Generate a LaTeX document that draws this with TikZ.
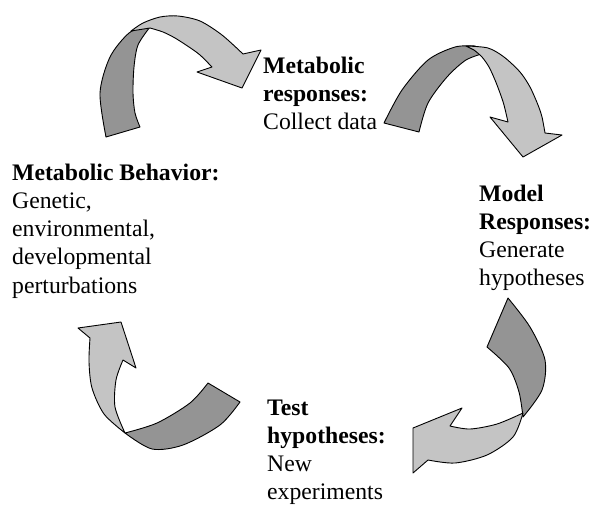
\documentclass[tikz,border=0pt]{standalone}
\usepackage{fontspec}
\setmainfont{Liberation Serif}
\definecolor{ribdark}{RGB}{148,148,148}
\definecolor{riblight}{RGB}{196,196,196}
\begin{document}
\begin{tikzpicture}[x=1pt,y=-1pt,
  dark/.style={fill=ribdark,draw=black,line width=0.9pt,line join=round},
  light/.style={fill=riblight,draw=black,line width=0.9pt,line join=round},
  lbl/.style={anchor=base west,inner sep=0pt,font=\fontsize{23.7}{28.3}\selectfont}]
\useasboundingbox (0,0) rectangle (591,504);
% Arrow 1 (top-left)
\draw[dark] (106,137) -- plot[smooth] coordinates {(106,137)(100,93)(110,57)(129,33)(148,25)}
  -- plot[smooth] coordinates {(150,27)(138,45)(134,67)(133,93)(135,113)(140,127)} -- cycle;
\draw[light] plot[smooth] coordinates {(131,31)(143,23)(160,17)(178,16)(200,21)(222,35)(243,54)}
  -- (261,50) -- (242,88) -- (197,72) -- (212,67)
  -- plot[smooth] coordinates {(212,67)(200,55)(189,47)(175,38)(163,32)(150,28)} -- cycle;
% Arrow 2 (top-right)
\draw[dark] (384,123) -- (419,132)
  -- plot[smooth] coordinates {(419,132)(428,103)(447,77)(466,60)(485,53)}
  -- plot[smooth] coordinates {(475,46)(455,47)(428,60)(402,90)(384,123)} -- cycle;
\draw[light] plot[smooth] coordinates {(466,46)(488,48)(504,57)(520,72)(530,87)(538,105)(542,117)(545,133)}
  -- (562,135) -- (523,157) -- (490,117) -- (508,122)
  -- plot[smooth] coordinates {(508,122)(504,105)(500,93)(495,80)(489,67)(482,57)(474,50)} -- cycle;
% Arrow 3 (right-bottom)
\draw[dark] (487,347) -- (508,298)
  -- plot[smooth] coordinates {(508,298)(530,327)(545,360)(542,390)(523,417)}
  -- plot[smooth] coordinates {(523,417)(519,392)(509,368)(487,347)} -- cycle;
\draw[light] plot[smooth] coordinates {(523,413)(513,437)(487,455)(455,463)(428,460)}
  -- (413,473) -- (413,428) -- (462,408) -- (450,426)
  -- plot[smooth] coordinates {(450,426)(470,429)(497,424)(523,413)} -- cycle;
% Arrow 4 (bottom-left)
\draw[dark] (208,383) -- (240,402)
  -- plot[smooth] coordinates {(240,402)(220,425)(183,445)(152,449)(125,433)}
  -- plot[smooth] coordinates {(125,433)(157,423)(190,403)(208,383)} -- cycle;
\draw[light] plot[smooth] coordinates {(125,433)(104,414)(92,388)(89,362)(90,338)}
  -- (78,328) -- (121,322) -- (136,368) -- (123,360)
  -- plot[smooth] coordinates {(123,360)(116,380)(115,407)(125,433)} -- cycle;
% Labels
\node[lbl] (mr) at (263,73) {\begin{tabular}[t]{@{}l@{}}\textbf{Metabolic}\\\textbf{responses:}\\Collect data\end{tabular}};
\node[lbl] (mo) at (479,201) {\begin{tabular}[t]{@{}l@{}}\textbf{Model}\\\textbf{Responses:}\\Generate\\hypotheses\end{tabular}};
\node[lbl] (th) at (267,415) {\begin{tabular}[t]{@{}l@{}}\textbf{Test}\\\textbf{hypotheses:}\\New\\experiments\end{tabular}};
\node[lbl] (mb) at (12,180) {\begin{tabular}[t]{@{}l@{}}\textbf{Metabolic Behavior:}\\Genetic,\\environmental,\\developmental\\perturbations\end{tabular}};
\end{tikzpicture}
\end{document}
